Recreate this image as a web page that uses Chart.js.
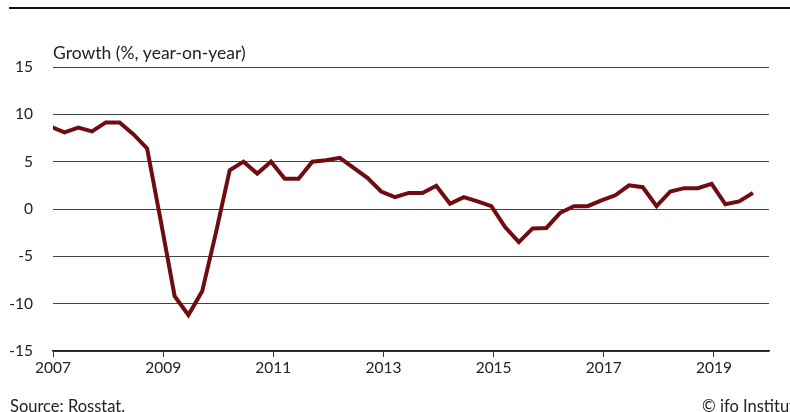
<!DOCTYPE html>
<html>
<head>
<meta charset="utf-8">
<script src="https://cdn.jsdelivr.net/npm/chart.js@4/dist/chart.umd.min.js"></script>
<style>
  html, body { margin: 0; padding: 0; background: #fff; }
  #chart { display: block; }
</style>
</head>
<body>
<canvas id="chart" width="790" height="412"></canvas>
<script>
// quarters (first one sits just left of the axis and is clipped)
const quarterLabels = [
  '2006Q4',
  '2007Q1', '2007Q2', '2007Q3', '2007Q4',
  '2008Q1', '2008Q2', '2008Q3', '2008Q4',
  '2009Q1', '2009Q2', '2009Q3', '2009Q4',
  '2010Q1', '2010Q2', '2010Q3', '2010Q4',
  '2011Q1', '2011Q2', '2011Q3', '2011Q4',
  '2012Q1', '2012Q2', '2012Q3', '2012Q4',
  '2013Q1', '2013Q2', '2013Q3', '2013Q4',
  '2014Q1', '2014Q2', '2014Q3', '2014Q4',
  '2015Q1', '2015Q2', '2015Q3', '2015Q4',
  '2016Q1', '2016Q2', '2016Q3', '2016Q4',
  '2017Q1', '2017Q2', '2017Q3', '2017Q4',
  '2018Q1', '2018Q2', '2018Q3', '2018Q4',
  '2019Q1', '2019Q2', '2019Q3'
];

// GDP growth, % year-on-year
const growth = [
  8.7,
  8.1, 8.6, 8.2, 9.15,
  9.15, 7.9, 6.4, -1.3,
  -9.2, -11.2, -8.7, -2.5,
  4.1, 5.0, 3.75, 5.0,
  3.2, 3.2, 5.0, 5.15,
  5.4, 4.35, 3.3, 1.85,
  1.25, 1.7, 1.7, 2.45,
  0.55, 1.25, 0.8, 0.3,
  -1.9, -3.5, -2.05, -2.0,
  -0.4, 0.3, 0.3, 0.9,
  1.45, 2.5, 2.3, 0.3,
  1.85, 2.2, 2.2, 2.65,
  0.5, 0.8, 1.7
];

const yearTicks = [2007, 2009, 2011, 2013, 2015, 2017, 2019];
const yTicks = [-15, -10, -5, 0, 5, 10, 15];

const FONT = 'Lato';
const TEXT = '#222';
const LINE = '#6e0c10';

// quarter -> decimal year (mid of the quarter's last month)
function quarterToX(label) {
  const year = parseInt(label.slice(0, 4), 10);
  const q = parseInt(label.slice(5), 10);
  return year + (3 * q - 0.5) / 12;
}

// extra texts: top rule, axis title, footer
const decorations = {
  id: 'decorations',
  afterDraw(chart) {
    const ctx = chart.ctx;
    const area = chart.chartArea;
    ctx.save();
    ctx.strokeStyle = '#111';
    ctx.lineWidth = 2;
    ctx.beginPath();
    ctx.moveTo(9, 8);
    ctx.lineTo(790, 8);
    ctx.stroke();

    ctx.fillStyle = TEXT;
    ctx.textBaseline = 'alphabetic';
    ctx.textAlign = 'left';
    ctx.font = '17.5px ' + FONT;
    ctx.fillText('Growth (%, year-on-year)', area.left, 59);

    ctx.font = '16.5px ' + FONT;
    ctx.fillText('Source: Rosstat.', 10, 412);
    ctx.fillText('\u00A9 ifo Institute', 702, 412);
    ctx.restore();
  }
};

const ctx = document.getElementById('chart').getContext('2d');
new Chart(ctx, {
  type: 'line',
  data: {
    datasets: [{
      data: quarterLabels.map((q, i) => ({ x: quarterToX(q), y: growth[i] })),
      borderColor: LINE,
      borderWidth: 4,
      pointRadius: 0,
      tension: 0,
      fill: false,
      clip: 0
    }]
  },
  options: {
    responsive: false,
    animation: false,
    layout: { padding: { top: 67, right: 21, bottom: 0, left: 0 } },
    plugins: {
      legend: { display: false },
      tooltip: { enabled: false }
    },
    scales: {
      x: {
        type: 'linear',
        min: 2007,
        max: 2020,
        afterBuildTicks: scale => { scale.ticks = yearTicks.map(v => ({ value: v })); },
        afterFit: scale => { scale.height = 61; },
        ticks: {
          callback: v => String(v),
          font: { family: FONT, size: 15.5 },
          color: TEXT,
          padding: 2,
          maxRotation: 0,
          autoSkip: false
        },
        grid: {
          drawOnChartArea: false,
          drawTicks: true,
          tickLength: 6,
          color: '#333',
          lineWidth: 1
        },
        border: { display: true, color: '#222', width: 1.5 }
      },
      y: {
        min: -15,
        max: 15,
        afterBuildTicks: scale => { scale.ticks = yTicks.map(v => ({ value: v })); },
        afterFit: scale => { scale.width = 53; },
        ticks: {
          font: { family: FONT, size: 15.5 },
          color: TEXT,
          padding: 20
        },
        grid: { drawTicks: false, color: '#444', lineWidth: 1 },
        border: { display: false }
      }
    }
  },
  plugins: [decorations]
});
</script>
</body>
</html>
